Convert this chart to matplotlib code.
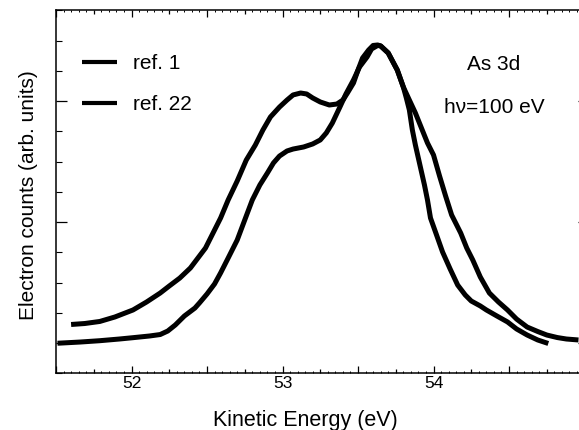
import matplotlib
matplotlib.use("Agg")
import matplotlib.pyplot as plt
from matplotlib.ticker import MultipleLocator, FuncFormatter

plt.rcParams['font.family'] = ['Liberation Sans', 'DejaVu Sans']

# Curve with the low-energy shoulder/dip (ref. 1)
ref1_energy = [51.60, 51.69, 51.79, 51.89, 52.01, 52.10, 52.19, 52.25, 52.32, 52.39,
               52.43, 52.49, 52.54, 52.59, 52.64, 52.70, 52.76, 52.82, 52.87, 52.92,
               52.98, 53.03, 53.07, 53.12, 53.16, 53.20, 53.25, 53.31, 53.36, 53.40,
               53.43, 53.47, 53.50, 53.53, 53.57, 53.60, 53.63, 53.65, 53.70, 53.76,
               53.80, 53.82, 53.84, 53.86, 53.88, 53.91, 53.94, 53.96, 53.98, 54.02,
               54.06, 54.11, 54.16, 54.21, 54.25, 54.31, 54.35, 54.42, 54.49, 54.55,
               54.62, 54.69, 54.76]
ref1_counts = [0.153, 0.161, 0.178, 0.215, 0.273, 0.339, 0.413, 0.471, 0.537, 0.620,
               0.686, 0.785, 0.909, 1.033, 1.182, 1.339, 1.512, 1.636, 1.760, 1.868,
               1.950, 2.008, 2.050, 2.066, 2.058, 2.025, 1.992, 1.967, 1.975, 2.008,
               2.066, 2.149, 2.256, 2.355, 2.421, 2.459, 2.463, 2.455, 2.397, 2.256,
               2.116, 2.025, 1.926, 1.760, 1.636, 1.471, 1.306, 1.182, 1.033, 0.893,
               0.752, 0.612, 0.479, 0.397, 0.347, 0.306, 0.273, 0.223, 0.174, 0.116,
               0.066, 0.025, -0.004]

# Narrower curve (ref. 22)
ref22_energy = [51.51, 51.66, 51.79, 51.92, 52.01, 52.12, 52.19, 52.24, 52.29, 52.35,
                52.42, 52.45, 52.50, 52.55, 52.59, 52.64, 52.70, 52.75, 52.80, 52.85,
                52.90, 52.94, 52.98, 53.03, 53.07, 53.14, 53.20, 53.25, 53.29, 53.33,
                53.38, 53.42, 53.47, 53.51, 53.56, 53.59, 53.63, 53.65, 53.70, 53.76,
                53.80, 53.84, 53.88, 53.92, 53.96, 54.00, 54.04, 54.08, 54.12, 54.18,
                54.22, 54.26, 54.31, 54.37, 54.43, 54.49, 54.55, 54.62, 54.69, 54.75,
                54.82, 54.88, 54.96]
ref22_counts = [-0.002, 0.008, 0.019, 0.033, 0.044, 0.058, 0.070, 0.099, 0.149, 0.223,
                0.289, 0.331, 0.405, 0.488, 0.579, 0.702, 0.851, 1.017, 1.182, 1.306,
                1.405, 1.488, 1.545, 1.587, 1.603, 1.620, 1.645, 1.678, 1.736, 1.818,
                1.950, 2.058, 2.174, 2.281, 2.364, 2.430, 2.459, 2.455, 2.397, 2.256,
                2.116, 2.008, 1.901, 1.777, 1.653, 1.554, 1.380, 1.215, 1.058, 0.909,
                0.785, 0.686, 0.545, 0.413, 0.339, 0.273, 0.198, 0.132, 0.095, 0.066,
                0.045, 0.033, 0.025]

labels = ["ref. 1", "ref. 22"]
xtick_labels = {52: "52", 53: "53", 54: "54"}

W, H = 579, 430
fig = plt.figure(figsize=(W / 100, H / 100), dpi=100)
left_px, right_px, top_px, bot_px = 56, 581.5, 10.25, 373.25
ax = fig.add_axes([left_px / W, 1 - bot_px / H, (right_px - left_px) / W, (bot_px - top_px) / H])

lw = 3.6
ax.plot(ref1_energy, ref1_counts, color='black', lw=lw, solid_capstyle='butt',
        solid_joinstyle='round', label=labels[0])
ax.plot(ref22_energy, ref22_counts, color='black', lw=lw, solid_capstyle='butt',
        solid_joinstyle='round', label=labels[1])

ax.set_xlim(51.5, 54.98)
ax.set_ylim(-0.25, 2.75)

for sp in ax.spines.values():
    sp.set_linewidth(1.1)
ax.spines['right'].set_visible(False)

# x ticks
ax.xaxis.set_major_locator(MultipleLocator(0.25))
ax.xaxis.set_minor_locator(MultipleLocator(0.05))
ax.xaxis.set_major_formatter(FuncFormatter(
    lambda v, p: xtick_labels.get(int(round(v)), "") if abs(v - round(v)) < 1e-6 else ""))
ax.tick_params(axis='x', which='major', direction='in', top=True, bottom=True,
               length=5, width=0.9, labelsize=12.5, pad=2)
ax.tick_params(axis='x', which='minor', direction='in', top=True, bottom=True,
               length=1.5, width=0.7)

# y ticks
ax.yaxis.set_major_locator(MultipleLocator(1.0))
ax.yaxis.set_minor_locator(MultipleLocator(0.25))
ax.tick_params(axis='y', which='major', direction='in', left=True, right=True,
               length=8, width=0.9, labelleft=False)
ax.tick_params(axis='y', which='minor', direction='in', left=True, right=False,
               length=4, width=0.8)

fig.canvas.draw()
for t, loc in zip(ax.xaxis.get_major_ticks(), ax.get_xticks()):
    sz = 5 if abs(loc * 2 - round(loc * 2)) < 1e-6 else 3
    t.tick1line.set_markersize(sz)
    t.tick2line.set_markersize(sz)
for t in ax.yaxis.get_major_ticks():
    t.tick2line.set_markersize(3)

ax.set_xlabel("Kinetic Energy (eV)", fontsize=15.5)
ax.xaxis.set_label_coords(0.474, -0.101)
ax.set_ylabel("Electron counts (arb. units)", fontsize=15)
ax.yaxis.set_label_coords(-0.034, 0.492)

leg = ax.legend(loc='upper left', bbox_to_anchor=(0.049, 0.879), frameon=False,
                fontsize=15, handlelength=1.68, handletextpad=0.77, labelspacing=1.05,
                borderpad=0, borderaxespad=0)
for line in leg.get_lines():
    line.set_linewidth(3.0)

ax.text(0.8335, 0.835, "As 3d", transform=ax.transAxes, ha='center', va='baseline', fontsize=15)
ax.text(0.8335, 0.717, "h\u03bd=100 eV", transform=ax.transAxes, ha='center', va='baseline', fontsize=15)

fig.savefig("out.png", dpi=100)
